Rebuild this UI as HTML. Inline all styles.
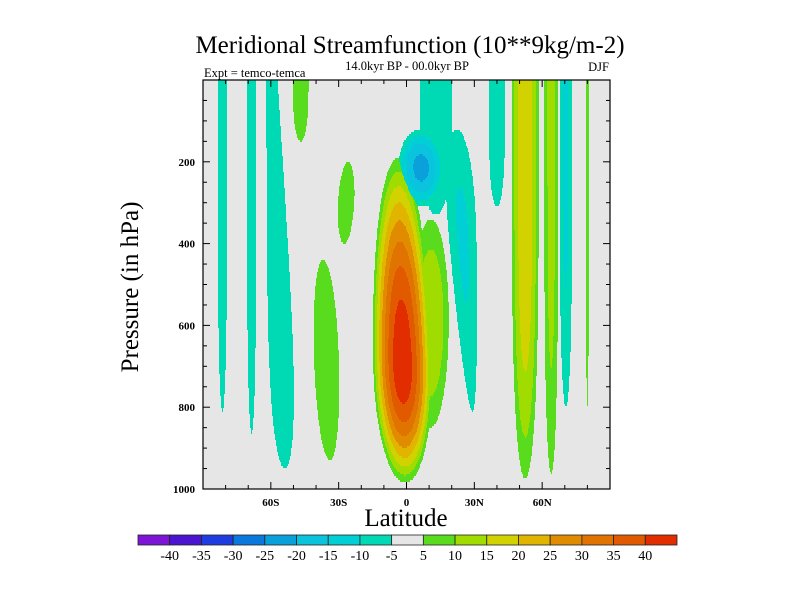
<!DOCTYPE html>
<html><head><meta charset="utf-8"><style>
html,body{margin:0;padding:0;background:#fff;}
svg{display:block;font-family:"Liberation Serif",serif;}
</style></head><body>
<svg id="chart" width="800" height="600" viewBox="0 0 800 600" xmlns="http://www.w3.org/2000/svg">
<rect width="800" height="600" fill="#fff"/>
<text x="410" y="53" font-size="25" text-anchor="middle">Meridional Streamfunction (10**9kg/m-2)</text>
<text x="407" y="70" font-size="12.5" text-anchor="middle">14.0kyr BP - 00.0kyr BP</text>
<text x="204" y="77" font-size="12.5">Expt = temco-temca</text>
<text x="609" y="71" font-size="12.5" text-anchor="end">DJF</text>
<g id="field"></g>
<g id="axes"></g>
<text transform="translate(138,287) rotate(-90)" font-size="25" text-anchor="middle">Pressure (in hPa)</text>
<text x="406" y="526" font-size="25" text-anchor="middle">Latitude</text>
<g id="cbar"></g>
</svg>
<script>
// ---- data ----
const latTicks = [-60, -30, 0, 30, 60];
const latTickLabels = ["60S", "30S", "0", "30N", "60N"];
const pTicks = [200, 400, 600, 800, 1000];
const pTickLabels = ["200", "400", "600", "800", "1000"];
const levels = [-40, -35, -30, -25, -20, -15, -10, -5, 5, 10, 15, 20, 25, 30, 35, 40];
const levelColors = ["#7d14d6","#4a14d0","#1e3ce0","#0a78dc","#0aa0dc","#0ac3dc","#00cfd6","#00dab4","#e6e6e6","#5adc1e","#a0dc00","#d2d200","#e1b400","#e18c00","#e17300","#e15a00","#e12d00"];
// circulation cells (latitude deg, pressure hPa, value 10**9kg)
const cellLatTop = [-81.4, -68.5, -59.5, -46.8, -24.0, -39.5, -4.5, 11.0, 13, 6, 21, 40, 52.5, 64, 70.5, 80];
const cellLatBot = [-81.4, -68.5, -53.5, -46.8, -33.0, -33.5, -0.5, 10.5, 13, 8, 31, 40, 52.5, 64, 70.5, 80];
const cellHalfWidthTop = [2.1, 2.1, 2.5, 3.5, 3.6, 5.5, 13, 8, 7, 10, 8, 3.6, 6.0, 3.1, 2.8, 0.7];
const cellHalfWidthBot = [2.1, 2.1, 8.0, 3.5, 3.6, 5.5, 13, 8, 7, 10, 3, 3.6, 6.0, 3.1, 2.8, 0.7];
const cellPCenter = [0, 0, 0, -50, 300, 680, 700, 590, 0, 215, 360, 0, 0, 0, 0, 0];
const cellPHalfTop = [900, 900, 900, 400, 100, 240, 510, 250, 900, 95, 240, 900, 900, 900, 900, 900];
const cellPHalfBot = [810, 865, 950, 200, 100, 250, 285, 260, 330, 95, 450, 310, 975, 962, 800, 800];
const cellPExponent = [4, 4, 4, 4, 2, 2, 2, 2, 4, 2, 2, 4, 4, 4, 4, 4];
const cellPeak = [-8, -8, -8, 8, 8, 8, 44, 15, -9, -22, -11, -8, 19, 12, -11, 7];

// ---- axes ----
const X0 = 203, X1 = 610, Y0 = 80, Y1 = 489;
function xs(lat){ return X0 + (lat + 90) * (X1 - X0) / 180; }
function ys(p){ return Y0 + p * (Y1 - Y0) / 1000; }
function latOf(x){ return (x - X0) * 180 / (X1 - X0) - 90; }
function pOf(y){ return (y - Y0) * 1000 / (Y1 - Y0); }
const NS = "http://www.w3.org/2000/svg";
function mk(tag, attrs, parent){ const e = document.createElementNS(NS, tag); for (const k in attrs) e.setAttribute(k, attrs[k]); parent.appendChild(e); return e; }

function value(lat, p){
  let best = 0;
  for (let i = 0; i < cellPeak.length; i++){
    const f = Math.max(0, Math.min(1, p / 1000));
    const c = cellLatTop[i] + (cellLatBot[i] - cellLatTop[i]) * f;
    const w = cellHalfWidthTop[i] + (cellHalfWidthBot[i] - cellHalfWidthTop[i]) * f;
    const dx = (lat - c) / w;
    const dp = p < cellPCenter[i] ? (cellPCenter[i] - p) / cellPHalfTop[i] : (p - cellPCenter[i]) / cellPHalfBot[i];
    const r2 = dx*dx + Math.pow(dp, cellPExponent[i]);
    if (r2 >= 1) continue;
    const mag = 5 + (Math.abs(cellPeak[i]) - 5) * (1 - r2);
    if (mag > Math.abs(best)) best = Math.sign(cellPeak[i]) * mag;
  }
  return best;
}
function band(v){ let k = 0; while (k < levels.length && v >= levels[k]) k++; return k; }

const field = document.getElementById('field');
const bg = mk('rect', {x: X0, y: Y0, width: X1 - X0, height: Y1 - Y0, fill: levelColors[8]}, field);


const step = 2;
for (let y = Y0; y < Y1; y += step){
  const p = pOf(y + step / 2);
  let runStart = X0, runBand = -1;
  for (let x = X0; x <= X1; x += 1){
    const b = x < X1 ? band(value(latOf(x + 0.5), p)) : -2;
    if (b !== runBand){
      if (runBand >= 0 && runBand !== 8){
        const r = mk('rect', {x: runStart, y: y, width: x - runStart, height: Math.min(step, Y1 - y), fill: levelColors[runBand]}, field);
        
        
      }
      runStart = x; runBand = b;
    }
  }
}

// axes frame + ticks
const axes = document.getElementById('axes');
const frame = mk('rect', {x: X0, y: Y0, width: X1 - X0, height: Y1 - Y0, fill: 'none', stroke: '#000', 'stroke-width': 1.2}, axes);


for (let lat = -80; lat <= 80; lat += 10){
  const len = lat % 30 === 0 ? 7 : 4;
  const x = xs(lat);
  const t1 = mk('line', {x1: x, x2: x, y1: Y1, y2: Y1 - len, stroke: '#000'}, axes);
  
  
  const t2 = mk('line', {x1: x, x2: x, y1: Y0, y2: Y0 + len, stroke: '#000'}, axes);
  
  
}
for (let p = 50; p < 1000; p += 50){
  const len = p % 200 === 0 ? 7 : 4;
  const y = ys(p);
  const t1 = mk('line', {x1: X0, x2: X0 + len, y1: y, y2: y, stroke: '#000'}, axes);
  
  
  const t2 = mk('line', {x1: X1, x2: X1 - len, y1: y, y2: y, stroke: '#000'}, axes);
  
  
}
latTicks.forEach((lat, i) => {
  const t = mk('text', {x: xs(lat), y: 506, 'font-size': 11, 'font-weight': 'bold', 'text-anchor': 'middle'}, axes);
  t.textContent = latTickLabels[i];
  
  
});
pTicks.forEach((p, i) => {
  const t = mk('text', {x: 195, y: ys(p) + 4, 'font-size': 11, 'font-weight': 'bold', 'text-anchor': 'end'}, axes);
  t.textContent = pTickLabels[i];
  
  
});

// colorbar
const cb = document.getElementById('cbar');
const CB0 = 138, CB1 = 677, CBY = 535, CBH = 10;
const bw = (CB1 - CB0) / levelColors.length;
levelColors.forEach((c, i) => {
  const r = mk('rect', {x: CB0 + i * bw, y: CBY, width: bw, height: CBH, fill: c, stroke: '#222', 'stroke-width': 0.8}, cb);
  
  
});
levels.forEach((lv, i) => {
  const t = mk('text', {x: CB0 + (i + 1) * bw, y: 560, 'font-size': 14, 'text-anchor': 'middle'}, cb);
  t.textContent = String(lv);
  
  
});
</script>
</body></html>
